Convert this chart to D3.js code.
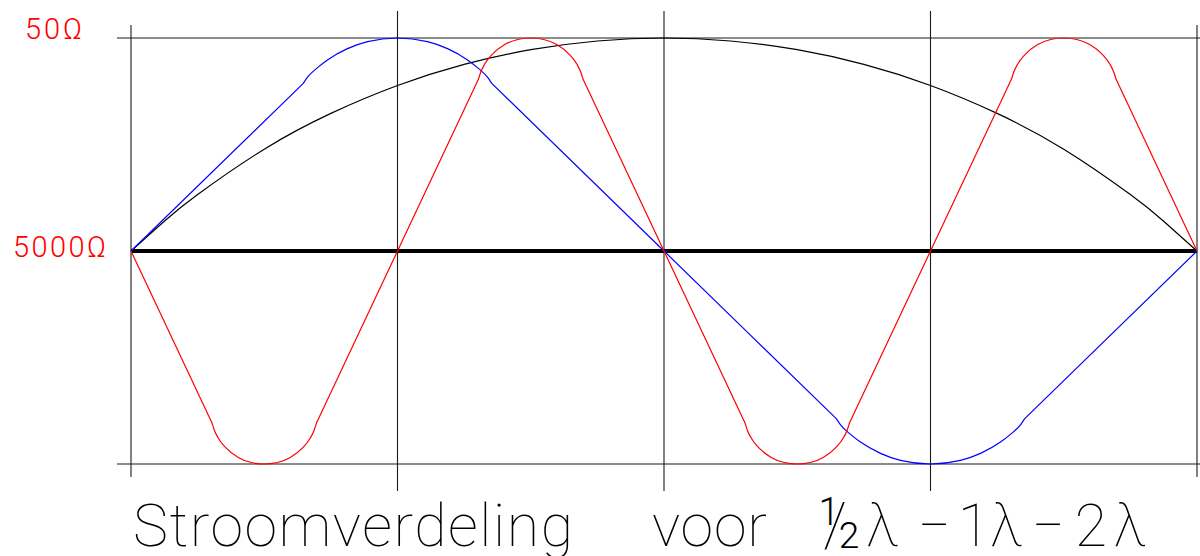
<!DOCTYPE html>
<html>
<head>
<meta charset="utf-8">
<script src="https://cdn.jsdelivr.net/npm/d3@7"></script>
<style>
  html, body { margin: 0; padding: 0; background: #fff; }
  svg { display: block; }
  text { font-family: Roboto, "Open Sans", "DejaVu Sans", sans-serif; font-weight: 100; }
</style>
</head>
<body>
<svg id="chart" width="1200" height="556"></svg>
<script>
// Positions along the antenna (fraction of total length) where the grid columns sit
const gridStops = [0, 0.25, 0.5, 0.75, 1];
// Impedance labels on the left edge: value is the relative current level they mark
const impedanceLevels = [1, 0];
const impedanceLabels = ["50Ω", "5000Ω"];

// Current distribution curves: [position, relative amplitude, bend flag]
// A bend flag marks where a straight run meets a rounded crest.
const halfWave = [
  [0, 0], [0.03125, 0.140], [0.0625, 0.265], [0.125, 0.478], [0.1875, 0.646],
  [0.25, 0.777], [0.3125, 0.876], [0.375, 0.945], [0.4375, 0.986], [0.5, 1],
  [0.5625, 0.986], [0.625, 0.945], [0.6875, 0.876], [0.75, 0.777],
  [0.8125, 0.646], [0.875, 0.478], [0.9375, 0.265], [0.96875, 0.140], [1, 0]
];

const fullWave = [
  [0, 0],
  [0.1616, 0.787, 1], [0.1656, 0.816], [0.175, 0.861], [0.1843, 0.897],
  [0.2031, 0.950], [0.2219, 0.983], [0.25, 1], [0.2781, 0.983], [0.2969, 0.950],
  [0.3157, 0.897], [0.325, 0.861], [0.3344, 0.816], [0.3384, 0.787, 1],
  [0.5, 0],
  [0.6616, -0.787, 1], [0.6656, -0.816], [0.675, -0.861], [0.6843, -0.897],
  [0.7031, -0.950], [0.7219, -0.983], [0.75, -1], [0.7781, -0.983], [0.7969, -0.950],
  [0.8157, -0.897], [0.825, -0.861], [0.8344, -0.816], [0.8384, -0.787, 1],
  [1, 0]
];

const doubleWave = [
  [0, 0],
  [0.076, -0.807, 1], [0.0781, -0.840], [0.0818, -0.878], [0.0884, -0.921],
  [0.1006, -0.969], [0.1128, -0.993], [0.125, -1], [0.1372, -0.993], [0.1494, -0.969],
  [0.1616, -0.921], [0.1682, -0.878], [0.1719, -0.840], [0.174, -0.807, 1],
  [0.25, 0],
  [0.326, 0.807, 1], [0.3281, 0.840], [0.3318, 0.878], [0.3384, 0.921],
  [0.3506, 0.969], [0.3628, 0.993], [0.375, 1], [0.3872, 0.993], [0.3994, 0.969],
  [0.4116, 0.921], [0.4182, 0.878], [0.4219, 0.840], [0.424, 0.807, 1],
  [0.5, 0],
  [0.576, -0.807, 1], [0.5781, -0.840], [0.5818, -0.878], [0.5884, -0.921],
  [0.6006, -0.969], [0.6128, -0.993], [0.625, -1], [0.6372, -0.993], [0.6494, -0.969],
  [0.6616, -0.921], [0.6682, -0.878], [0.6719, -0.840], [0.674, -0.807, 1],
  [0.75, 0],
  [0.826, 0.807, 1], [0.8281, 0.840], [0.8318, 0.878], [0.8384, 0.921],
  [0.8506, 0.969], [0.8628, 0.993], [0.875, 1], [0.8872, 0.993], [0.8994, 0.969],
  [0.9116, 0.921], [0.9182, 0.878], [0.9219, 0.840], [0.924, 0.807, 1],
  [1, 0]
];

// Title pieces: plain words and the wavelength expression
const titleWords = ["Stroomverdeling", "voor"];
const fractionParts = ["1", "/", "2"];
const expressionParts = ["λ", "−", "1", "λ", "−", "2", "λ"];

const svg = d3.select("#chart");
svg.append("rect").attr("width", 1200).attr("height", 556).attr("fill", "#fff");

const x = d3.scaleLinear().domain([0, 1]).range([131, 1197]);
const y = d3.scaleLinear().domain([-1, 1]).range([464, 38]);

const gridColor = "#1a1a1a";

// Horizontal reference lines (top and bottom limits)
svg.append("g").selectAll("line")
  .data([1, -1])
  .join("line")
  .attr("x1", x(0) - 14).attr("x2", 1200)
  .attr("y1", d => y(d)).attr("y2", d => y(d))
  .attr("stroke", gridColor).attr("stroke-width", 1.1);

// Vertical grid columns; the outer ones are shorter
svg.append("g").selectAll("line")
  .data(gridStops)
  .join("line")
  .attr("x1", d => x(d)).attr("x2", d => x(d))
  .attr("y1", (d, i) => (i === 0 || i === gridStops.length - 1) ? y(1) - 13 : y(1) - 27)
  .attr("y2", (d, i) => (i === 0 || i === gridStops.length - 1) ? y(-1) + 13 : y(-1) + 27)
  .attr("stroke", gridColor).attr("stroke-width", 1.1);

// Antenna wire along the zero line
svg.append("line")
  .attr("x1", x(0)).attr("x2", x(1))
  .attr("y1", y(0)).attr("y2", y(0))
  .attr("stroke", "#000").attr("stroke-width", 4);

// Build a path from runs split at bend points, each run smoothed on its own
function bentPath(points) {
  const line = d3.line()
    .x(d => x(d[0]))
    .y(d => y(d[1]))
    .curve(d3.curveMonotoneX);
  const runs = [];
  let current = [];
  points.forEach(p => {
    current.push(p);
    if (p[2]) {
      runs.push(current);
      current = [p];
    }
  });
  if (current.length > 1) runs.push(current);
  return runs.map(r => line(r)).join("");
}

const smooth = d3.line()
  .x(d => x(d[0]))
  .y(d => y(d[1]))
  .curve(d3.curveNatural);

svg.append("path")
  .attr("d", smooth(halfWave))
  .attr("fill", "none").attr("stroke", "#000").attr("stroke-width", 1.2);

svg.append("path")
  .attr("d", bentPath(fullWave))
  .attr("fill", "none").attr("stroke", "#0000ff").attr("stroke-width", 1.2);

svg.append("path")
  .attr("d", bentPath(doubleWave))
  .attr("fill", "none").attr("stroke", "#ff0000").attr("stroke-width", 1.2);

// Impedance labels
const labelPlacement = [
  { x: 25, len: 57, dy: 1 },
  { x: 13, len: 93, dy: 6 }
];
svg.append("g").selectAll("text")
  .data(impedanceLabels)
  .join("text")
  .attr("x", (d, i) => labelPlacement[i].x)
  .attr("y", (d, i) => y(impedanceLevels[i]) + labelPlacement[i].dy)
  .attr("textLength", (d, i) => labelPlacement[i].len)
  .attr("lengthAdjust", "spacing")
  .attr("font-size", 29)
  .style("font-weight", 300)
  .attr("fill", "#ff0000")
  .text(d => d);

// Title
const title = svg.append("g");
const wordPlacement = [{ x: 133, len: 440 }, { x: 652, len: 115 }];
title.selectAll("text.word")
  .data(titleWords)
  .join("text")
  .attr("class", "word")
  .attr("x", (d, i) => wordPlacement[i].x)
  .attr("y", 546)
  .attr("textLength", (d, i) => wordPlacement[i].len)
  .attr("lengthAdjust", "spacing")
  .attr("font-size", 59)
  .attr("fill", "#000")
  .text(d => d);

const fractionPlacement = [
  { x: 829, y: 525, size: 38 },
  { x: 835, y: 546, size: 62 },
  { x: 849, y: 548, size: 37 }
];
title.selectAll("text.frac")
  .data(fractionParts)
  .join("text")
  .attr("class", "frac")
  .attr("x", (d, i) => fractionPlacement[i].x)
  .attr("y", (d, i) => fractionPlacement[i].y)
  .attr("text-anchor", "middle")
  .attr("font-size", (d, i) => fractionPlacement[i].size)
  .style("font-weight", (d, i) => i === 1 ? 100 : 300)
  .attr("fill", "#000")
  .text(d => d);

const expressionCenters = [882.5, 934, 974, 1006.5, 1048, 1091, 1130];
title.selectAll("text.expr")
  .data(expressionParts)
  .join("text")
  .attr("class", "expr")
  .attr("x", (d, i) => expressionCenters[i])
  .attr("y", 546)
  .attr("text-anchor", "middle")
  .attr("font-size", 59)
  .attr("fill", "#000")
  .attr("textLength", d => d === "−" ? 33 : null)
  .attr("lengthAdjust", d => d === "−" ? "spacingAndGlyphs" : null)
  .text(d => d);
</script>
</body>
</html>
